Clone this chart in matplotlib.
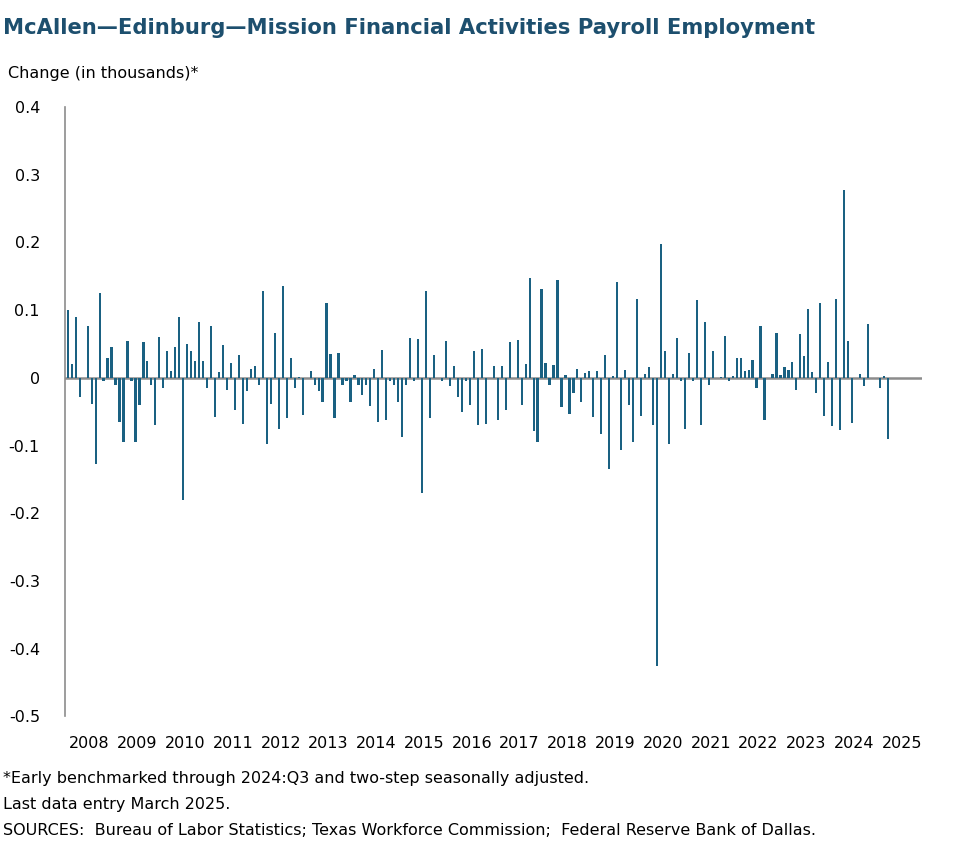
import matplotlib
matplotlib.use("Agg")
import matplotlib.pyplot as plt
import numpy as np

years = list(range(2008, 2026))
v2008 = [0.10, 0.02, 0.09, -0.028, 0.0, 0.077, -0.038, -0.128, 0.125, -0.005, 0.029, 0.045]
v2009 = [-0.01, -0.065, -0.095, 0.055, -0.005, -0.095, -0.04, 0.053, 0.025, -0.01, -0.07, 0.061]
v2010 = [-0.015, 0.04, 0.01, 0.045, 0.09, -0.18, 0.05, 0.04, 0.025, 0.083, 0.025, -0.015]
v2011 = [0.077, -0.058, 0.008, 0.048, -0.018, 0.022, -0.048, 0.034, -0.068, -0.02, 0.013, 0.018]
v2012 = [-0.01, 0.128, -0.097, -0.038, 0.066, -0.075, 0.136, -0.06, 0.03, -0.015, 0.002, -0.055]
v2013 = [0.0, 0.01, -0.01, -0.02, -0.035, 0.111, 0.035, -0.06, 0.036, -0.01, -0.005, -0.035]
v2014 = [0.004, -0.01, -0.025, -0.01, -0.042, 0.013, -0.065, 0.041, -0.063, -0.005, -0.01, -0.035]
v2015 = [-0.087, -0.01, 0.059, -0.005, 0.058, -0.17, 0.128, -0.06, 0.034, 0.0, -0.005, 0.055]
v2016 = [-0.012, 0.017, -0.028, -0.05, -0.004, -0.04, 0.04, -0.07, 0.043, -0.068, 0.0, 0.018]
v2017 = [-0.063, 0.018, -0.048, 0.053, 0.0, 0.056, -0.04, 0.021, 0.148, -0.078, -0.095, 0.131]
v2018 = [0.022, -0.01, 0.019, 0.145, -0.043, 0.004, -0.053, -0.022, 0.013, -0.036, 0.007, 0.01]
v2019 = [-0.058, 0.01, -0.083, 0.034, -0.135, 0.003, 0.142, -0.107, 0.011, -0.04, -0.095, 0.116]
v2020 = [-0.057, 0.006, 0.016, -0.07, -0.426, 0.198, 0.04, -0.097, 0.006, 0.059, -0.005, -0.075]
v2021 = [0.037, -0.005, 0.115, -0.07, 0.082, -0.01, 0.04, 0.0, 0.001, 0.062, -0.005, 0.003]
v2022 = [0.03, 0.03, 0.01, 0.012, 0.026, -0.015, 0.077, -0.062, 0.0, 0.005, 0.066, 0.004]
v2023 = [0.016, 0.012, 0.024, -0.018, 0.065, 0.033, 0.101, 0.008, -0.023, 0.111, -0.057, 0.023]
v2024 = [-0.071, 0.116, -0.077, 0.278, 0.055, -0.067, 0.0, 0.005, -0.012, 0.080, 0.0, 0.0]
v2025 = [-0.015, 0.003, -0.09]

values = (v2008 + v2009 + v2010 + v2011 + v2012 + v2013 + v2014 + v2015 + v2016
          + v2017 + v2018 + v2019 + v2020 + v2021 + v2022 + v2023 + v2024 + v2025)
yticks = [0.4, 0.3, 0.2, 0.1, 0, -0.1, -0.2, -0.3, -0.4, -0.5]
ytick_labels = ["0.4", "0.3", "0.2", "0.1", "0", "-0.1", "-0.2", "-0.3", "-0.4", "-0.5"]

fig = plt.figure(figsize=(9.77, 8.64), dpi=100)
ax = fig.add_axes([0.0665, 0.171, 0.877, 0.705])
x = np.arange(len(values))
ax.bar(x, values, width=0.55, color="#1a6182", zorder=2)
ax.axhline(0, color="#8c8c8c", lw=1.8, zorder=1)
ax.set_ylim(-0.5, 0.4)
ax.set_xlim(-0.7, 214.5)
ax.set_yticks(yticks)
ax.set_yticklabels(ytick_labels, fontsize=11.5)
ax.tick_params(axis="y", length=0, pad=18)
ax.set_xticks([i * 12 + 5.5 for i in range(len(years))])
ax.set_xticklabels([str(y) for y in years], fontsize=11.5)
ax.tick_params(axis="x", length=0, pad=14)
for s in ["top", "right", "bottom"]:
    ax.spines[s].set_visible(False)
ax.spines["left"].set_color("#8c8c8c")
ax.spines["left"].set_linewidth(1.2)

fig.text(0.003, 0.968, "McAllen\u2014Edinburg\u2014Mission Financial Activities Payroll Employment",
         fontsize=15.2, fontweight="bold", color="#1d4f6e", va="center", ha="left")
fig.text(0.008, 0.915, "Change (in thousands)*", fontsize=11.5, va="center", ha="left")
fig.text(0.003, 0.099, "*Early benchmarked through 2024:Q3 and two-step seasonally adjusted.", fontsize=11.5, va="center")
fig.text(0.003, 0.069, "Last data entry March 2025.", fontsize=11.5, va="center")
fig.text(0.003, 0.039, "SOURCES:  Bureau of Labor Statistics; Texas Workforce Commission;  Federal Reserve Bank of Dallas.", fontsize=11.5, va="center")
fig.savefig("out.png", dpi=100)
